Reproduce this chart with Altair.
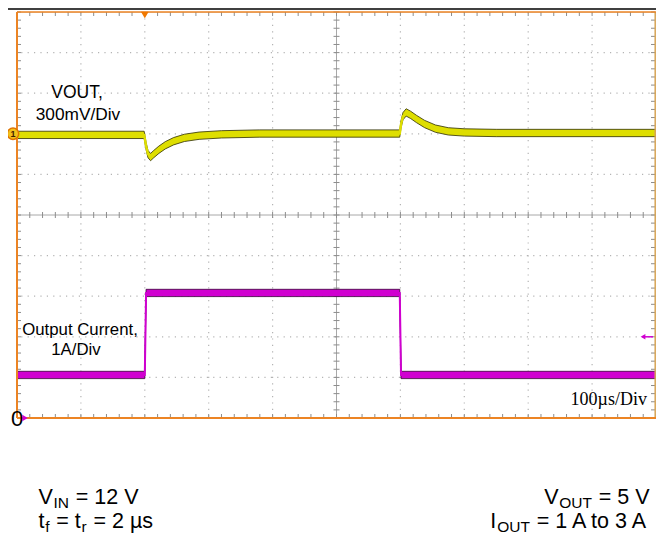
import altair as alt
import pandas as pd

# Channel 1: VOUT (AC view), deviation in mV, 300 mV/div
vout_t_us = [0, 199, 202, 205, 209, 214, 222, 232, 245, 262, 285, 320, 380,
             599, 601, 604, 609, 616, 625, 638, 655, 675, 700, 750, 1000]
vout_dev_mv = [-8, -8, -90, -150, -172, -150, -118, -85, -55, -30, -14, -4, 2,
               2, 70, 130, 158, 140, 110, 72, 38, 18, 10, 6, 6]
# Channel 2: output current, 1 A/div
iout_t_us = [0, 200, 202, 599, 601, 1000]
iout_a = [1.06, 1.06, 3.08, 3.08, 1.06, 1.06]

ch1_ref_mv = [0]          # channel-1 reference marker
ch2_ref_a = [0]           # channel-2 ground marker
trig_level_a = [2.0]      # trigger level arrow
trig_pos_us = [200]       # trigger position marker

grid_x_us = [100, 200, 300, 400, 600, 700, 800, 900]
grid_y_div = [1, 2, 3, 4, 6, 7, 8, 9]
center_x_us = [500]
center_y_div = [5]
minor_x_us = list(range(0, 1001, 20))
minor_y_div = [i / 5 for i in range(51)]

# ---------------- layout ----------------
W, H = 639, 406
SANS = "Liberation Sans"
SERIF = "Liberation Serif"
YELLOW = "#dede00"
MAGENTA = "#d000d0"
ORANGE = "#ec8424"
TAN = "#d6a456"
GRID = "#b4b4b4"

xs = alt.Scale(domain=[0, 1000], nice=False, zero=False)
ydiv = alt.Scale(domain=[0, 10], nice=False, zero=False)
yv = alt.Scale(domain=[-2100, 900], nice=False, zero=False)
yi = alt.Scale(domain=[0, 10], nice=False, zero=False)

one = pd.DataFrame({"k": [0]})
layers = []

def df(**cols):
    return pd.DataFrame(cols)

# dotted grid
layers.append(alt.Chart(df(v=grid_x_us)).mark_rule(color=GRID, strokeWidth=1.2, strokeDash=[1.2, 5.2])
              .encode(x=alt.X("v:Q", scale=xs, axis=None)))
layers.append(alt.Chart(df(v=grid_y_div)).mark_rule(color=GRID, strokeWidth=1.2, strokeDash=[1.2, 5.2])
              .encode(y=alt.Y("v:Q", scale=ydiv, axis=None)))
# centre crosshair
layers.append(alt.Chart(df(v=center_x_us)).mark_rule(color="#a8a8a8", strokeWidth=1)
              .encode(x=alt.X("v:Q", scale=xs, axis=None)))
layers.append(alt.Chart(df(v=center_y_div)).mark_rule(color="#a8a8a8", strokeWidth=1)
              .encode(y=alt.Y("v:Q", scale=ydiv, axis=None)))
# minor ticks
for (a, b) in [(0, 4), (H - 4, H), (H / 2 - 3, H / 2 + 3)]:
    layers.append(alt.Chart(df(v=minor_x_us)).mark_rule(color="#8c8c8c", strokeWidth=1)
                  .encode(x=alt.X("v:Q", scale=xs, axis=None), y=alt.value(a), y2=alt.value(b)))
for (a, b) in [(0, 4), (W - 5, W - 1), (W / 2 - 3, W / 2 + 3)]:
    layers.append(alt.Chart(df(v=minor_y_div)).mark_rule(color="#8c8c8c", strokeWidth=1)
                  .encode(y=alt.Y("v:Q", scale=ydiv, axis=None), x=alt.value(a), x2=alt.value(b)))

# current trace (band + thin edge line)
cur = df(t=iout_t_us, a=iout_a)
layers.append(alt.Chart(cur).transform_calculate(lo="datum.a - 0.09", hi="datum.a + 0.09")
              .mark_area(color=MAGENTA, stroke="#3a003a", strokeWidth=1, strokeOpacity=0.8)
              .encode(x=alt.X("t:Q", scale=xs, axis=None), y=alt.Y("lo:Q", scale=yi, axis=None), y2="hi:Q"))
layers.append(alt.Chart(cur).mark_line(color=MAGENTA, strokeWidth=2)
              .encode(x=alt.X("t:Q", scale=xs, axis=None), y=alt.Y("a:Q", scale=yi, axis=None)))

# vout trace
vo = df(t=vout_t_us, v=vout_dev_mv)
layers.append(alt.Chart(vo).transform_calculate(lo="datum.v - 27", hi="datum.v + 27")
              .mark_area(color=YELLOW, stroke="#2e2e00", strokeWidth=1, strokeOpacity=0.8)
              .encode(x=alt.X("t:Q", scale=xs, axis=None), y=alt.Y("lo:Q", scale=yv, axis=None), y2="hi:Q"))
layers.append(alt.Chart(vo).mark_line(color=YELLOW, strokeWidth=2.5)
              .encode(x=alt.X("t:Q", scale=xs, axis=None), y=alt.Y("v:Q", scale=yv, axis=None)))

# frame
layers.append(alt.Chart(one).mark_rule(color=TAN, strokeWidth=1.5)
              .encode(x=alt.value(W - 0.8), y=alt.value(0), y2=alt.value(H)))
layers.append(alt.Chart(one).mark_rule(color=ORANGE, strokeWidth=1.5)
              .encode(x=alt.value(0), x2=alt.value(W), y=alt.value(0)))
layers.append(alt.Chart(one).mark_rule(color=ORANGE, strokeWidth=2)
              .encode(x=alt.value(0), y=alt.value(0), y2=alt.value(H)))
layers.append(alt.Chart(one).mark_rule(color=ORANGE, strokeWidth=2)
              .encode(x=alt.value(0), x2=alt.value(W), y=alt.value(H)))
# page top line
layers.append(alt.Chart(one).mark_rule(color="black", strokeWidth=1.5)
              .encode(x=alt.value(-9), x2=alt.value(W), y=alt.value(-3)))

# markers
layers.append(alt.Chart(df(v=ch1_ref_mv)).mark_point(shape="circle", filled=True, size=130, fill="#f2c21a",
                                                     stroke="#e07400", strokeWidth=1.5, opacity=1)
              .encode(x=alt.value(-4), y=alt.Y("v:Q", scale=yv, axis=None)))
layers.append(alt.Chart(df(v=ch1_ref_mv)).mark_text(text="1", font=SANS, fontSize=9, fontWeight="bold",
                                                    color="#402000", baseline="middle")
              .encode(x=alt.value(-4), y=alt.Y("v:Q", scale=yv, axis=None)))
layers.append(alt.Chart(df(v=trig_level_a)).mark_rule(color=MAGENTA, strokeWidth=1.5)
              .encode(x=alt.value(W - 13), x2=alt.value(W - 3), y=alt.Y("v:Q", scale=yi, axis=None)))
layers.append(alt.Chart(df(v=trig_level_a)).mark_point(shape="triangle-left", filled=True, size=30,
                                                       color=MAGENTA, opacity=1)
              .encode(x=alt.value(W - 13), y=alt.Y("v:Q", scale=yi, axis=None)))
layers.append(alt.Chart(df(t=trig_pos_us)).mark_point(shape="triangle-down", filled=True, size=60,
                                                      color="#f07800", opacity=1)
              .encode(x=alt.X("t:Q", scale=xs, axis=None), y=alt.value(3)))

# screen annotations
def txt(s, x, y, size, font=SANS, align="center", baseline="middle", color="black"):
    return (alt.Chart(one).mark_text(text=s, font=font, fontSize=size, align=align,
                                     baseline=baseline, color=color)
            .encode(x=alt.value(x), y=alt.value(y)))

layers.append(txt("VOUT,", 60, 81, 17.5))
layers.append(txt("300mV/Div", 61, 103, 17.3))
layers.append(txt("Output Current,", 63, 318, 16.8))
layers.append(txt("1A/Div", 59, 338, 16.8))
layers.append(txt("100\u00b5s/Div", 630, 388, 18, font=SERIF, align="right"))
layers.append(txt("0", 0, H + 1, 22))
layers.append(alt.Chart(df(v=ch2_ref_a)).mark_point(shape="triangle-right", filled=True, size=40,
                                                    color=MAGENTA, opacity=1)
              .encode(x=alt.value(8), y=alt.Y("v:Q", scale=yi, axis=None)))

# conditions below the screen (with subscripts)
AW = {" ": 278, "=": 584, "0": 556, "1": 556, "2": 556, "3": 556, "5": 556,
      "V": 667, "I": 278, "N": 722, "O": 778, "U": 722, "T": 611, "A": 667,
      "t": 278, "o": 556, "f": 278, "r": 333, "\u00b5": 556, "s": 500}

def tw(s, size):
    return sum(AW.get(c, 556) for c in s) * size / 1000.0

FS, SS = 21.5, 15.5

def rich(segs, x, yb, right=False):
    widths = [tw(s, SS if sub else FS) + 0.8 for s, sub in segs]
    x0 = x - sum(widths) if right else x
    out = []
    for (s, sub), w in zip(segs, widths):
        lead = len(s) - len(s.lstrip(" "))
        sz = SS if sub else FS
        out.append(txt(s.strip(), x0 + tw(" " * lead, sz) + 0.4, yb + (3.5 if sub else 0), sz,
                       align="left", baseline="alphabetic"))
        x0 += w
    return out

L_X = 38 - 17
R_X = 650 - 17
B1 = 504 - 12
B2 = 528 - 12
layers += rich([("V", False), ("IN", True), (" = 12 V", False)], L_X, B1)
layers += rich([("t", False), ("f", True), (" = t", False), ("r", True), (" = 2 \u00b5s", False)], L_X, B2)
layers += rich([("V", False), ("OUT", True), (" = 5 V", False)], R_X, B1, right=True)
layers += rich([("I", False), ("OUT", True), (" = 1 A to 3 A", False)], R_X, B2, right=True)

chart = (alt.layer(*layers)
         .resolve_scale(y="independent")
         .properties(width=W, height=H,
                     autosize=alt.AutoSizeParams(type="none"),
                     padding={"left": 9, "top": 4, "right": 0, "bottom": 117})
         .configure_view(stroke=None)
         .configure(background="white"))

chart.save("out.html", embed_options={"renderer": "svg", "actions": False})
